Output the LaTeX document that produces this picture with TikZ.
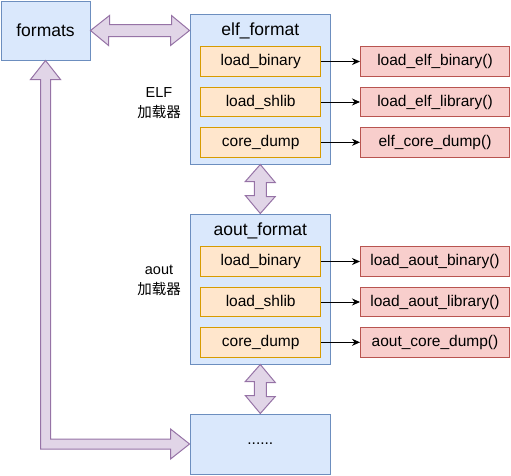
\documentclass[tikz,border=0pt]{standalone}
\usepackage{fontspec}
\setmainfont{Liberation Sans}
\newfontfamily\cjk{Noto Sans CJK SC}
\usepackage{tikz}
\usetikzlibrary{calc}
\usetikzlibrary{arrows.meta}

\definecolor{boxblue}{HTML}{DAE8FC}
\definecolor{lineblue}{HTML}{6C8EBF}
\definecolor{boxorange}{HTML}{FFE6CC}
\definecolor{lineorange}{HTML}{D79B00}
\definecolor{boxred}{HTML}{F8CECC}
\definecolor{linered}{HTML}{B85450}
\definecolor{boxpurple}{HTML}{E1D5E7}
\definecolor{linepurple}{HTML}{9673A6}

\tikzset{
    formatbox/.style={draw=lineblue, fill=boxblue, line width=1pt, inner sep=0pt,
        minimum width=140.5pt, minimum height=150pt},
    handlerbox/.style={draw=lineorange, fill=boxorange, line width=1pt, inner sep=0pt,
        minimum width=120pt, minimum height=29.5pt, font=\fontsize{15.5pt}{18pt}\selectfont},
    funcbox/.style={draw=linered, fill=boxred, line width=1pt, inner sep=0pt,
        minimum width=149pt, minimum height=29.5pt, font=\fontsize{15.5pt}{18pt}\selectfont},
    titletext/.style={inner sep=0pt, font=\fontsize{17.5pt}{20pt}\selectfont},
    loadertext/.style={inner sep=0pt, align=center, font=\fontsize{14.5pt}{20pt}\selectfont},
    fatarrow/.style={draw=linepurple, fill=boxpurple, line width=1pt, line join=miter},
    callarrow/.style={-{Stealth[length=8pt,width=7pt]}, line width=0.9pt}
}

\begin{document}
\begin{tikzpicture}[x=1pt, y=-1pt]
        \useasboundingbox (0,0) rectangle (511,475);
        % boxes
        \node[draw=lineblue, fill=boxblue, line width=1pt, inner sep=0pt,
            minimum width=89pt, minimum height=59pt,
            font=\fontsize{17.5pt}{20pt}\selectfont] (formats) at (45.5,30.5) {formats};
        \node[formatbox] (elf) at (260.3,89) {};
        \node[formatbox] (aout) at (260.3,289) {};
        \node[formatbox, minimum height=60pt, font=\fontsize{15.5pt}{18pt}\selectfont]
            (dots) at (260.3,444) {......};
        \node[titletext] (elftitle) at ($(elf.north)+(0,17)$) {elf\_format};
        \node[titletext] (aouttitle) at ($(aout.north)+(0,17)$) {aout\_format};
        \node[loadertext] (elflabel) at (159,103) {ELF\\{\cjk 加载器}};
        \node[loadertext] (aoutlabel) at (159,280) {aout\\{\cjk 加载器}};

        % handlers and functions
        \node[handlerbox] (elfbin) at (260.7,61.5) {load\_binary};
        \node[handlerbox] (elflib) at (260.7,102) {load\_shlib};
        \node[handlerbox] (elfcore) at (260.7,142.3) {core\_dump};
        \node[funcbox] (elfbinfn) at (435,61.5) {load\_elf\_binary()};
        \node[funcbox] (elflibfn) at (435,102) {load\_elf\_library()};
        \node[funcbox] (elfcorefn) at (435,142.3) {elf\_core\_dump()};
        \node[handlerbox] (aoutbin) at (260.7,261.5) {load\_binary};
        \node[handlerbox] (aoutlib) at (260.7,302) {load\_shlib};
        \node[handlerbox] (aoutcore) at (260.7,342.3) {core\_dump};
        \node[funcbox] (aoutbinfn) at (435,261.5) {load\_aout\_binary()};
        \node[funcbox] (aoutlibfn) at (435,302) {load\_aout\_library()};
        \node[funcbox] (aoutcorefn) at (435,342.3) {aout\_core\_dump()};

        \draw[callarrow] (elfbin) -- (elfbinfn);
        \draw[callarrow] (elflib) -- (elflibfn);
        \draw[callarrow] (elfcore) -- (elfcorefn);
        \draw[callarrow] (aoutbin) -- (aoutbinfn);
        \draw[callarrow] (aoutlib) -- (aoutlibfn);
        \draw[callarrow] (aoutcore) -- (aoutcorefn);

        % fat double arrows
        \draw[fatarrow] (formats.east) -- ++(19,-15) -- ++(0,9) -- ++(62,0) -- ++(0,-9)
            -- (formats.east -| elf.west) -- ++(-19,15) -- ++(0,-9) -- ++(-62,0) -- ++(0,9) -- cycle;
        \draw[fatarrow] (elf.south) -- ++(15,18) -- ++(-9,0) -- ++(0,14) -- ++(9,0)
            -- (aout.north) -- ++(-15,-18) -- ++(9,0) -- ++(0,-14) -- ++(-9,0) -- cycle;
        \draw[fatarrow] (aout.south) -- ++(15,18) -- ++(-9,0) -- ++(0,14) -- ++(9,0)
            -- (dots.north) -- ++(-15,-18) -- ++(9,0) -- ++(0,-14) -- ++(-9,0) -- cycle;
        \draw[fatarrow] (formats.south) -- ++(15,19) -- ++(-10,0)
            -- ($(formats.south |- dots.west)+(5,-5)$) -- ($(dots.west)+(-19,-5)$)
            -- ++(0,-10) -- (dots.west) -- ++(-19,15) -- ++(0,-10)
            -- ($(formats.south |- dots.west)+(-5,5)$) -- ($(formats.south)+(-5,19)$)
            -- ++(-10,0) -- cycle;
\end{tikzpicture}
\end{document}
